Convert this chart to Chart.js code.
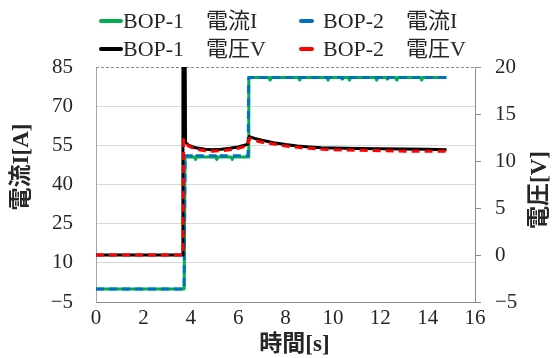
<!DOCTYPE html>
<html>
<head>
<meta charset="utf-8">
<script src="https://cdn.jsdelivr.net/npm/chart.js@4/dist/chart.umd.min.js"></script>
<style>
  html, body { margin: 0; padding: 0; background: #fff; }
  #c { display: block; }
</style>
</head>
<body>
<canvas id="c" width="552" height="358"></canvas>
<script>
// ---- Series data: time [s] and measured values ----
const timeCur1 = [0, 3.72, 3.76, 4.15, 4.2, 4.25, 5.05, 5.1, 5.15, 5.7, 5.75, 5.8, 6.42, 6.45,
                  7.3, 7.35, 7.4, 8.55, 8.6, 8.65, 9.75, 9.8, 9.85, 10.65, 10.7, 10.75,
                  11.8, 11.85, 11.9, 12.65, 12.7, 12.75, 13.7, 13.75, 13.8, 14.8];
const curBop1  = [0, 0, 50.5, 50.5, 49.6, 50.5, 50.5, 49.6, 50.5, 50.5, 49.6, 50.5, 50.5, 81,
                  81, 80, 81, 81, 80, 81, 81, 80, 81, 81, 80, 81,
                  81, 80, 81, 81, 80, 81, 81, 80, 81, 81];

const timeCur2 = [0, 3.72, 3.76, 4.15, 4.2, 4.25, 5.05, 5.1, 5.15, 6.42, 6.45,
                  10.35, 10.4, 10.45, 12.25, 12.3, 12.35, 14.8];
const curBop2  = [0, 0, 51, 51, 50.3, 51, 51, 50.3, 51, 51, 81,
                  81, 80.4, 81, 81, 80.4, 81, 81];

const timeVolt1 = [0, 3.66, 3.67, 3.75, 3.78, 3.9, 4.2, 4.6, 4.9, 5.3, 5.65, 6.0, 6.3, 6.4, 6.47,
                   6.7, 7.0, 7.5, 8.0, 8.5, 9.0, 9.5, 10.0, 11.0, 12.0, 13.0, 14.0, 14.8];
const voltBop1  = [0, 0, 30, 30, 12.0, 11.7, 11.4, 11.25, 11.2, 11.25, 11.35, 11.5, 11.7, 11.8, 12.6,
                   12.4, 12.2, 11.95, 11.75, 11.6, 11.5, 11.42, 11.38, 11.32, 11.3, 11.27, 11.25, 11.2];

const timeVolt2 = [0, 3.67, 3.7, 3.8, 3.9, 4.2, 4.6, 4.9, 5.3, 5.65, 6.0, 6.3, 6.4, 6.47,
                   6.7, 7.0, 7.5, 8.0, 8.5, 9.0, 9.5, 10.0, 11.0, 12.0, 13.0, 14.0, 14.8];
const voltBop2  = [0, 0, 12.3, 12.0, 11.6, 11.25, 11.1, 11.05, 11.1, 11.2, 11.35, 11.55, 11.65, 12.4,
                   12.2, 12.0, 11.8, 11.6, 11.45, 11.35, 11.25, 11.2, 11.15, 11.1, 11.05, 11.05, 11.05];

// ---- Axis ranges / tick steps ----
const timeTicks    = { min: 0, max: 16, step: 2 };
const currentTicks = { min: -5, max: 85, step: 15 };
const voltageTicks = { min: -5, max: 20, step: 5 };

const seriesLabels = ['BOP-1　電流I', 'BOP-2　電流I', 'BOP-1　電圧V', 'BOP-2　電圧V'];
const axisTitles   = { x: '時間[s]', current: '電流I[A]', voltage: '電圧[V]' };

const SERIF = "'Liberation Serif', 'Noto Sans CJK JP', serif";
const TEXT  = '#262626';

const pairs = (xs, ys) => xs.map((x, i) => ({ x, y: ys[i] }));
// typographic minus for negative tick values
const fmtTick = v => (v < 0 ? '\u2212' + Math.abs(v) : String(v));

// Legend drawn as a 2x2 grid above the plot
const legendGrid = {
  id: 'legendGrid',
  afterDraw(chart) {
    const ctx = chart.ctx;
    const cells = [
      { ds: 0, x: 100, y: 21, w: 22 },
      { ds: 1, x: 300, y: 21, w: 13 },
      { ds: 2, x: 100, y: 49, w: 22 },
      { ds: 3, x: 300, y: 49, w: 13 }
    ];
    ctx.save();
    ctx.font = '22px ' + SERIF;
    ctx.textBaseline = 'middle';
    ctx.fillStyle = TEXT;
    cells.forEach(c => {
      const ds = chart.data.datasets[c.ds];
      ctx.strokeStyle = ds.borderColor;
      ctx.lineWidth = 4;
      ctx.lineCap = 'round';
      ctx.beginPath();
      ctx.moveTo(c.x + 1, c.y);
      ctx.lineTo(c.x + c.w - 1, c.y);
      ctx.stroke();
      ctx.fillText(ds.label, c.x + c.w + (c.w < 20 ? 10 : 1), c.y + 1);
    });
    ctx.restore();
  }
};

// Dashed top edge of the plot frame, and axis titles
const frameAndTitles = {
  id: 'frameAndTitles',
  beforeDatasetsDraw(chart) {
    const { ctx, chartArea: a } = chart;
    ctx.save();
    ctx.strokeStyle = '#8c8c8c';
    ctx.lineWidth = 1;
    ctx.setLineDash([3, 2]);
    ctx.beginPath();
    ctx.moveTo(a.left, a.top + 0.5);
    ctx.lineTo(a.right, a.top + 0.5);
    ctx.stroke();
    ctx.restore();
  },
  afterDraw(chart) {
    const { ctx, chartArea: a } = chart;
    ctx.save();
    ctx.fillStyle = TEXT;
    ctx.font = 'bold 23px ' + SERIF;
    ctx.textAlign = 'center';
    ctx.textBaseline = 'middle';
    ctx.fillText(axisTitles.x, (a.left + a.right) / 2 + 9, 345);

    ctx.translate(22, 167);
    ctx.rotate(-Math.PI / 2);
    ctx.fillText(axisTitles.current, 0, 0);
    ctx.restore();

    ctx.save();
    ctx.fillStyle = TEXT;
    ctx.font = 'bold 23px ' + SERIF;
    ctx.textAlign = 'center';
    ctx.textBaseline = 'middle';
    ctx.translate(540, 190);
    ctx.rotate(-Math.PI / 2);
    ctx.fillText(axisTitles.voltage, 0, 0);
    ctx.restore();
  }
};

const tickFont = { family: SERIF, size: 21 };

new Chart(document.getElementById('c'), {
  type: 'line',
  data: {
    datasets: [
      { label: seriesLabels[0], data: pairs(timeCur1, curBop1), yAxisID: 'yCur',
        borderColor: '#00b050', borderWidth: 3, order: 3 },
      { label: seriesLabels[1], data: pairs(timeCur2, curBop2), yAxisID: 'yCur',
        borderColor: '#0070c0', borderWidth: 3, borderDash: [8, 5], order: 2 },
      { label: seriesLabels[2], data: pairs(timeVolt1, voltBop1), yAxisID: 'yVolt',
        borderColor: '#000000', borderWidth: 3, order: 1 },
      { label: seriesLabels[3], data: pairs(timeVolt2, voltBop2), yAxisID: 'yVolt',
        borderColor: '#ff0000', borderWidth: 3, borderDash: [8, 5], order: 0 }
    ]
  },
  options: {
    responsive: false,
    animation: false,
    devicePixelRatio: 1,
    layout: { padding: { top: 67, left: 0, right: 0, bottom: 0 } },
    elements: {
      point: { radius: 0, hoverRadius: 0 },
      line: { tension: 0, fill: false, borderJoinStyle: 'round' }
    },
    datasets: { line: { clip: 0 } },
    plugins: {
      legend: { display: false },
      tooltip: { enabled: false },
      title: { display: false }
    },
    scales: {
      x: {
        type: 'linear',
        min: timeTicks.min, max: timeTicks.max,
        grid: { display: false, drawTicks: false },
        border: { display: true, color: '#8c8c8c', width: 1, dash: [3, 2] },
        ticks: { stepSize: timeTicks.step, color: TEXT, font: tickFont, padding: 4, maxRotation: 0,
                 callback: fmtTick },
        afterFit(s) { s.height = 56; }
      },
      yCur: {
        type: 'linear', position: 'left',
        min: currentTicks.min, max: currentTicks.max,
        grid: {
          color: ctx => (ctx.index === 0 || ctx.index === 6) ? 'rgba(0,0,0,0)' : '#d9d9d9',
          lineWidth: 1, drawTicks: false
        },
        border: { display: true, color: '#a6a6a6', width: 1 },
        ticks: { stepSize: currentTicks.step, color: TEXT, font: tickFont, padding: 23,
                 callback: fmtTick },
        afterFit(s) { s.width = 96; }
      },
      yVolt: {
        type: 'linear', position: 'right',
        min: voltageTicks.min, max: voltageTicks.max,
        grid: { drawOnChartArea: false, drawTicks: true, tickLength: 6, color: '#8c8c8c' },
        border: { display: true, color: '#8c8c8c', width: 1, dash: [3, 2] },
        ticks: { stepSize: voltageTicks.step, color: TEXT, font: tickFont, padding: 14,
                 callback: fmtTick },
        afterFit(s) { s.width = 77; }
      }
    }
  },
  plugins: [legendGrid, frameAndTitles]
});
</script>
</body>
</html>
